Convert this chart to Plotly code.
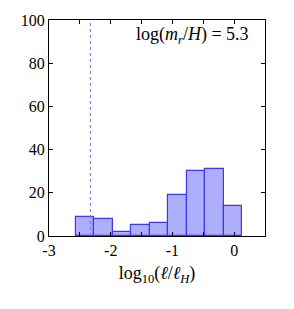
import plotly.graph_objects as go

bin_start = -2.57
bin_width = 0.30
counts = [9, 8, 2, 5, 6, 19, 30, 31, 14]
centers = [bin_start + bin_width * (i + 0.5) for i in range(len(counts))]
ref_line_x = -2.33
x_tickvals = [-3, -2, -1, 0]
x_ticktext = ["-3", "-2", "-1", "0"]
y_tickvals = [0, 20, 40, 60, 80, 100]

font_family = "'Liberation Serif', 'Times New Roman', serif"

fig = go.Figure()
fig.add_trace(go.Bar(
    x=centers, y=counts, width=bin_width,
    marker=dict(color="rgba(140,140,250,0.7)", line=dict(color="#3a3af0", width=1.2)),
))
fig.add_shape(type="line", x0=ref_line_x, x1=ref_line_x, y0=0, y1=1, yref="paper",
              line=dict(color="#7070ff", width=1, dash="dot"))
fig.add_annotation(x=0.935, y=0.93, xref="paper", yref="paper", xanchor="right", yanchor="middle",
                   text="log(<i>m</i><sub><i>r</i></sub>/<i>H</i>) = 5.3", showarrow=False,
                   font=dict(size=18, color="black", family=font_family))

fig.update_layout(
    width=286, height=301,
    margin=dict(l=41, r=29, t=12, b=73, autoexpand=False),
    paper_bgcolor="white", plot_bgcolor="white",
    showlegend=False, bargap=0,
    font=dict(family=font_family, size=16, color="black"),
    xaxis=dict(range=[-3, 0.5], tickvals=x_tickvals, ticktext=x_ticktext, automargin=False,
               ticks="inside", ticklen=4, tickcolor="black", mirror="ticks",
               minor=dict(dtick=0.5, tick0=0, ticks="inside", ticklen=4, tickcolor="black"),
               showline=True, linecolor="black", linewidth=1, showgrid=False, zeroline=False,
               title=dict(text="log<sub>10</sub>(<i>ℓ</i>/<i>ℓ</i><sub><i>H</i></sub>)", standoff=8,
                          font=dict(size=18))),
    yaxis=dict(range=[0, 100], tickvals=y_tickvals, automargin=False,
               ticks="inside", ticklen=4, tickcolor="black", mirror="ticks",
               showline=True, linecolor="black", linewidth=1, showgrid=False, zeroline=False),
)
fig.write_html("out.html")
